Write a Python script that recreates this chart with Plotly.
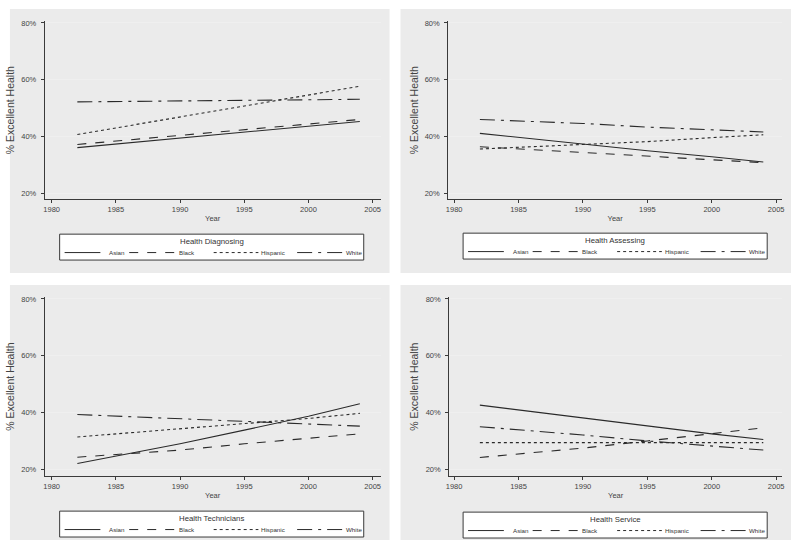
import plotly.graph_objects as go

# ---------------- data ----------------
YEARS = [1982, 1990, 1995, 2000, 2004]
GROUPS = ["Asian", "Black", "Hispanic", "White"]
PANELS = ["Health Diagnosing", "Health Assessing", "Health Technicians", "Health Service"]

# % excellent health, per panel, per group
diag_asian = [36.1, 39.5, 41.5, 43.6, 45.3]
diag_black = [37.2, 40.4, 42.4, 44.4, 46.0]
diag_hisp = [40.7, 46.9, 50.7, 54.6, 57.7]
diag_white = [52.2, 52.5, 52.7, 52.9, 53.1]

asse_asian = [41.1, 37.3, 35.0, 32.9, 31.0]
asse_black = [36.4, 34.3, 32.9, 31.7, 30.8]
asse_hisp = [35.6, 37.3, 38.2, 39.6, 40.6]
asse_white = [46.0, 44.6, 43.3, 42.5, 41.6]

tech_asian = [22.2, 29.1, 33.9, 38.8, 43.2]
tech_black = [24.4, 26.9, 29.1, 31.0, 32.6]
tech_hisp = [31.5, 34.4, 36.3, 38.0, 39.8]
tech_white = [39.4, 37.9, 37.0, 35.8, 35.3]

serv_asian = [42.7, 38.2, 35.6, 32.6, 30.6]
serv_black = [24.3, 27.6, 30.1, 32.6, 34.7]
serv_hisp = [29.5, 29.5, 29.5, 29.5, 29.5]
serv_white = [35.1, 32.2, 30.1, 28.3, 26.9]

SERIES = [
    [diag_asian, diag_black, diag_hisp, diag_white],
    [asse_asian, asse_black, asse_hisp, asse_white],
    [tech_asian, tech_black, tech_hisp, tech_white],
    [serv_asian, serv_black, serv_hisp, serv_white],
]

Y_TICKS = [20, 40, 60, 80]
Y_TICKTEXT = ["20%", "40%", "60%", "80%"]
X_TICKS = [1980, 1985, 1990, 1995, 2000, 2005]

# ---------------- styling ----------------
W, H = 800, 545
DASHES = ["solid", "dash", "dot", "longdashdot"]
LINE_COLOR = "#2a2a2a"
FONT = "Liberation Sans, Arial, sans-serif"


def px_x(v):
    return v / W


def px_y(v):
    return 1 - v / H


# plot areas in pixels: (left, right, top, bottom)
AREAS = [
    (42, 380, 19, 198),
    (448, 784, 19, 198),
    (42, 380, 296, 476),
    (449, 784, 296, 476),
]
X_RANGES = [
    (1979.46, 2005.62),
    (1979.54, 2005.46),
    (1979.46, 2005.62),
    (1979.62, 2005.46),
]
Y_RANGES = [
    (17.9, 80.7),
    (17.9, 80.7),
    (17.7, 80.7),
    (17.7, 80.7),
]
# gray panel backgrounds (left, right, top, bottom)
PANEL_BG = [
    (7, 389, 7, 272),
    (400, 793, 7, 272),
    (7, 389, 284, 540),
    (400, 793, 284, 540),
]
# legend boxes: left, top (pixels); width/height
LEG_BOX = [(57, 233), (463, 232), (57, 511), (463, 512)]
LEG_W, LEG_H = 306, 26
# key line segments (offset from box left) and label left offsets
KEY_LINES = [(5, 41), (70, 116), (155, 200), (239, 285)]
KEY_TEXT = [48, 118, 201, 286]

fig = go.Figure()

for p in range(4):
    suffix = "" if p == 0 else str(p + 1)
    for g in range(4):
        fig.add_trace(go.Scatter(
            x=YEARS, y=SERIES[p][g], mode="lines", name=GROUPS[g],
            line=dict(color=LINE_COLOR, width=1.1, dash=DASHES[g]),
            xaxis="x" + suffix, yaxis="y" + suffix,
            showlegend=False, hoverinfo="x+y+name",
        ))

shapes = []
annotations = []
layout = dict(
    width=W, height=H,
    margin=dict(l=0, r=0, t=0, b=0),
    paper_bgcolor="white",
    plot_bgcolor="white",
    font=dict(family=FONT, color="#333333", size=8),
)

for p in range(4):
    suffix = "" if p == 0 else str(p + 1)
    l, r, t, b = AREAS[p]
    axis_common = dict(
        showline=True, linecolor="#3a3a3a", linewidth=1,
        ticks="outside", ticklen=3, tickcolor="#3a3a3a", tickwidth=1,
        zeroline=False, tickfont=dict(size=7.5, color="#444444"),
    )
    layout["xaxis" + suffix] = dict(
        domain=[px_x(l), px_x(r)], range=list(X_RANGES[p]),
        anchor="y" + suffix, tickvals=X_TICKS, showgrid=False,
        title=dict(text="Year", font=dict(size=7.5, color="#444444"), standoff=2),
        **axis_common,
    )
    layout["yaxis" + suffix] = dict(
        domain=[px_y(b), px_y(t)], range=list(Y_RANGES[p]),
        anchor="x" + suffix, tickvals=Y_TICKS, ticktext=Y_TICKTEXT,
        showgrid=True, gridcolor="#efefef", gridwidth=1,
        ticklabelstandoff=3,
        title=dict(text="% Excellent Health", font=dict(size=10.5, color="#444444"), standoff=4),
        **axis_common,
    )
    bl, br, bt, bb = PANEL_BG[p]
    shapes.append(dict(
        type="rect", xref="paper", yref="paper", layer="below",
        x0=px_x(bl), x1=px_x(br), y0=px_y(bb), y1=px_y(bt),
        fillcolor="#ebebeb", line=dict(width=0),
    ))

    # legend box drawn by hand (Stata-style)
    lx, ly = LEG_BOX[p]
    shapes.append(dict(
        type="rect", xref="paper", yref="paper", layer="above",
        x0=px_x(lx), x1=px_x(lx + LEG_W), y0=px_y(ly + LEG_H), y1=px_y(ly),
        fillcolor="white", line=dict(color="#3a3a3a", width=1),
    ))
    annotations.append(dict(
        xref="paper", yref="paper", x=px_x(lx + LEG_W / 2), y=px_y(ly + 7.5),
        text=PANELS[p], showarrow=False, xanchor="center", yanchor="middle",
        font=dict(size=7.8, color="#333333"),
    ))
    key_y = px_y(ly + 18.5)
    for g in range(4):
        x0, x1 = KEY_LINES[g]
        shapes.append(dict(
            type="line", xref="paper", yref="paper", layer="above",
            x0=px_x(lx + x0), x1=px_x(lx + x1), y0=key_y, y1=key_y,
            line=dict(color=LINE_COLOR, width=1, dash=DASHES[g]),
        ))
        annotations.append(dict(
            xref="paper", yref="paper", x=px_x(lx + KEY_TEXT[g]), y=key_y,
            text=GROUPS[g], showarrow=False, xanchor="left", yanchor="middle",
            font=dict(size=6.2, color="#333333"),
        ))

layout["shapes"] = shapes
layout["annotations"] = annotations
fig.update_layout(**layout)
fig.write_html(
    "out.html",
    config={"displayModeBar": False},
    post_script="document.body.style.margin='0px';document.body.style.overflow='hidden';",
)
